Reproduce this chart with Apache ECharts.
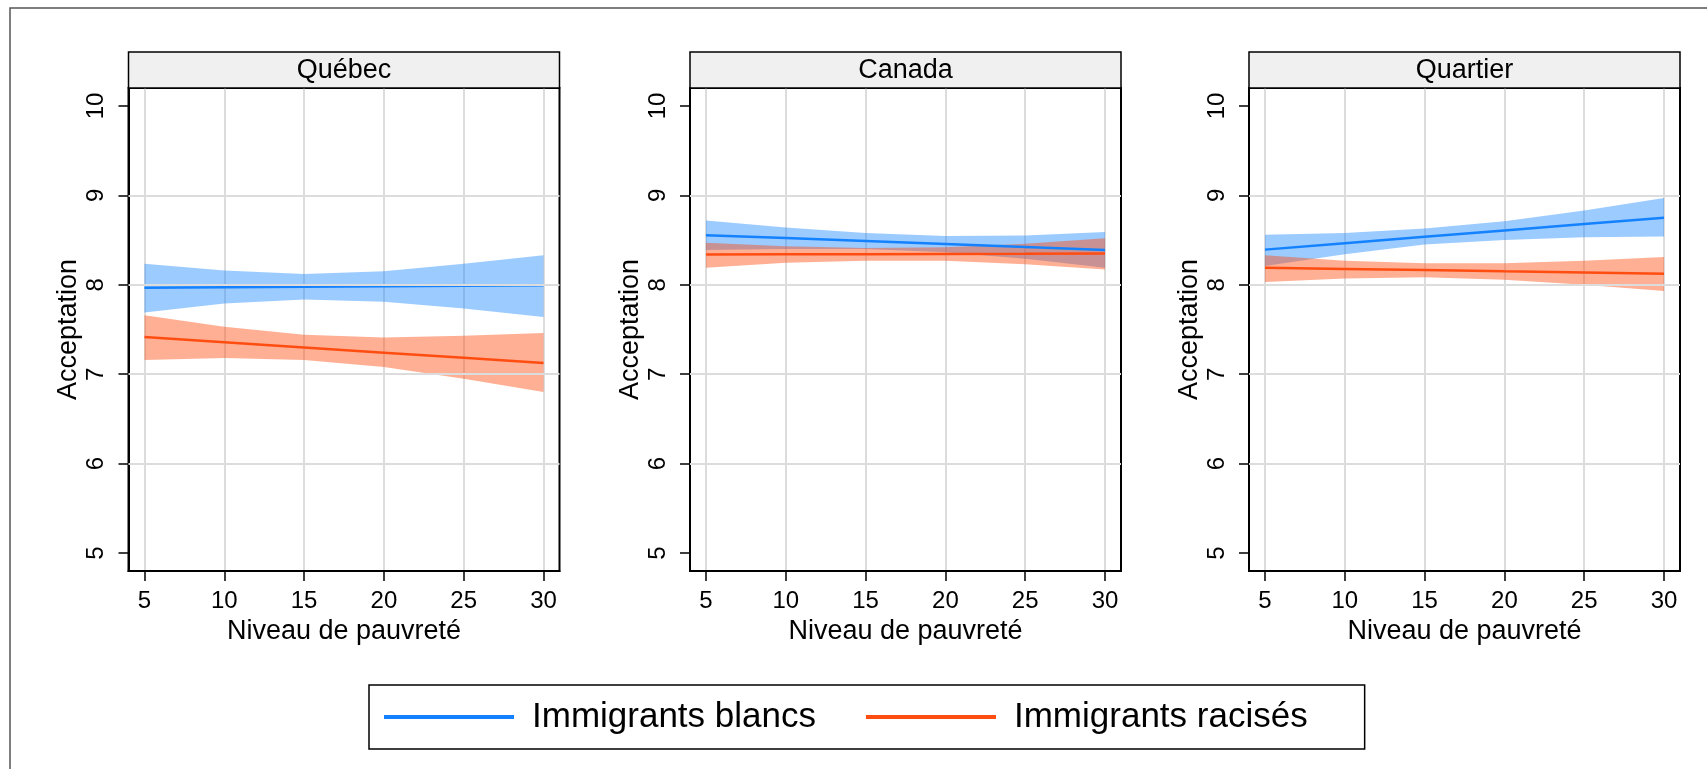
<!DOCTYPE html>
<html>
<head>
<meta charset="utf-8">
<script src="https://cdn.jsdelivr.net/npm/echarts@6/dist/echarts.min.js"></script>
<style>
html,body{margin:0;padding:0;background:#fff;}
#chart{width:1707px;height:769px;}
</style>
</head>
<body>
<div id="chart"></div>
<script>
// ---- data ----
const panels = ['Québec', 'Canada', 'Quartier'];
const seriesNames = ['Immigrants blancs', 'Immigrants racisés'];
const poverty = [5, 10, 15, 20, 25, 30];
const yTicks = [5, 6, 7, 8, 9, 10];
const yGridValues = [6, 7, 8, 9];

const qcBlancsFit = [7.966, 7.972, 7.978, 7.984, 7.990, 7.996];
const qcBlancsLo  = [7.69, 7.79, 7.835, 7.81, 7.735, 7.64];
const qcBlancsHi  = [8.235, 8.16, 8.12, 8.15, 8.235, 8.33];
const qcRacisesFit = [7.415, 7.357, 7.299, 7.241, 7.183, 7.125];
const qcRacisesLo  = [7.16, 7.18, 7.16, 7.08, 6.95, 6.80];
const qcRacisesHi  = [7.66, 7.53, 7.44, 7.41, 7.43, 7.46];

const caBlancsFit = [8.555, 8.522, 8.489, 8.455, 8.422, 8.389];
const caBlancsLo  = [8.39, 8.40, 8.40, 8.365, 8.29, 8.19];
const caBlancsHi  = [8.72, 8.64, 8.58, 8.545, 8.55, 8.59];
const caRacisesFit = [8.338, 8.340, 8.342, 8.345, 8.347, 8.350];
const caRacisesLo  = [8.19, 8.245, 8.27, 8.27, 8.23, 8.17];
const caRacisesHi  = [8.47, 8.43, 8.41, 8.42, 8.46, 8.52];

const quBlancsFit = [8.393, 8.464, 8.536, 8.607, 8.679, 8.750];
const quBlancsLo  = [8.21, 8.34, 8.45, 8.50, 8.53, 8.54];
const quBlancsHi  = [8.56, 8.58, 8.63, 8.71, 8.83, 8.97];
const quRacisesFit = [8.190, 8.177, 8.164, 8.150, 8.137, 8.124];
const quRacisesLo  = [8.03, 8.07, 8.085, 8.055, 8.00, 7.93];
const quRacisesHi  = [8.33, 8.27, 8.24, 8.24, 8.27, 8.31];

// ---- styling / layout ----
const FONT = 'Liberation Sans, Arial, Helvetica, sans-serif';
const BLUE = '#1482ff';
const RED = '#ff4d12';
const BLUE_BAND = 'rgba(20,130,255,0.42)';
const RED_BAND = 'rgba(255,77,18,0.45)';
const GRID_COLOR = '#dcdcdc';

const gridLeft = [128.5, 690, 1249];
const gridWidth = 431;
const gridTop = 88;
const gridHeight = 483;
const stripTop = 52;

const panelData = [
  [[qcBlancsFit, qcBlancsLo, qcBlancsHi], [qcRacisesFit, qcRacisesLo, qcRacisesHi]],
  [[caBlancsFit, caBlancsLo, caBlancsHi], [caRacisesFit, caRacisesLo, caRacisesHi]],
  [[quBlancsFit, quBlancsLo, quBlancsHi], [quRacisesFit, quRacisesLo, quRacisesHi]]
];
const lineColors = [BLUE, RED];
const bandColors = [BLUE_BAND, RED_BAND];

const grids = [], xAxes = [], yAxes = [], series = [], graphics = [];

graphics.push({
  type: 'rect', silent: true, z: 100,
  shape: { x: 10, y: 8, width: 1730, height: 800 },
  style: { fill: 'none', stroke: '#555', lineWidth: 1.5 }
});

function bandSeries(p, rows, color) {
  return {
    type: 'custom', xAxisIndex: p, yAxisIndex: p, silent: true, z: 2,
    data: rows,
    encode: { x: 0, y: [1, 2] },
    renderItem: function (params, api) {
      if (params.dataIndex !== 0) return null;
      const upper = rows.map(r => api.coord([r[0], r[2]]));
      const lower = rows.map(r => api.coord([r[0], r[1]])).reverse();
      return {
        type: 'polygon',
        shape: { points: upper.concat(lower) },
        style: { fill: color, stroke: 'none' }
      };
    }
  };
}

panels.forEach((name, p) => {
  grids.push({
    left: gridLeft[p], top: gridTop, width: gridWidth, height: gridHeight,
    show: true, backgroundColor: '#fff', borderColor: '#000', borderWidth: 2
  });
  xAxes.push({
    gridIndex: p, type: 'value', min: 4, max: 31,
    name: 'Niveau de pauvreté', nameLocation: 'middle', nameGap: 43,
    nameTextStyle: { fontFamily: FONT, fontSize: 27, color: '#000' },
    axisLine: { show: true, onZero: false, lineStyle: { color: '#000', width: 2 } },
    axisTick: { show: true, length: 10, customValues: poverty, lineStyle: { color: '#000', width: 1.5 } },
    axisLabel: { show: true, customValues: poverty, margin: 18, fontFamily: FONT, fontSize: 24, color: '#000' },
    splitLine: { show: true, lineStyle: { color: GRID_COLOR, width: 2 } }
  });
  yAxes.push({
    gridIndex: p, type: 'value', min: 4.8, max: 10.2,
    name: 'Acceptation', nameLocation: 'middle', nameGap: 46,
    nameTextStyle: { fontFamily: FONT, fontSize: 27, color: '#000' },
    axisLine: { show: true, onZero: false, lineStyle: { color: '#000', width: 2 } },
    axisTick: { show: true, length: 10, customValues: yTicks, lineStyle: { color: '#000', width: 1.5 } },
    axisLabel: { show: true, customValues: yTicks, rotate: 90, margin: 20, fontFamily: FONT, fontSize: 24, color: '#000' },
    splitLine: { show: false }
  });

  // horizontal grid lines
  series.push({
    type: 'line', xAxisIndex: p, yAxisIndex: p, data: [], z: 1, silent: true,
    markLine: {
      silent: true, symbol: ['none', 'none'], label: { show: false },
      lineStyle: { color: GRID_COLOR, width: 2, type: 'solid' },
      emphasis: { disabled: true },
      data: yGridValues.map(v => ({ yAxis: v }))
    }
  });

  // confidence bands
  panelData[p].forEach((g, gi) => {
    const [fit, lo, hi] = g;
    series.push(bandSeries(p, poverty.map((x, i) => [x, lo[i], hi[i]]), bandColors[gi]));
  });
  // fitted lines
  panelData[p].forEach((g, gi) => {
    const fit = g[0];
    series.push({
      type: 'line', name: seriesNames[gi], xAxisIndex: p, yAxisIndex: p,
      data: poverty.map((x, i) => [x, fit[i]]),
      symbol: 'none', showSymbol: false, color: lineColors[gi],
      lineStyle: { color: lineColors[gi], width: 2.5 }, z: 3
    });
  });

  // strip
  graphics.push({
    type: 'rect', silent: true, z: 10,
    shape: { x: gridLeft[p], y: stripTop, width: gridWidth, height: gridTop - stripTop },
    style: { fill: '#f0f0f0', stroke: '#000', lineWidth: 1.5 }
  });
  graphics.push({
    type: 'text', silent: true, z: 11,
    x: gridLeft[p] + gridWidth / 2, y: (stripTop + gridTop) / 2 + 1,
    style: { text: name, fontFamily: FONT, fontSize: 27, fill: '#000', align: 'center', verticalAlign: 'middle' }
  });
});

const chart = echarts.init(document.getElementById('chart'), null, { renderer: 'canvas' });
chart.setOption({
  animation: false,
  backgroundColor: '#fff',
  grid: grids,
  xAxis: xAxes,
  yAxis: yAxes,
  legend: {
    data: seriesNames.map(n => ({ name: n, icon: 'rect' })),
    left: 369, top: 685,
    orient: 'horizontal',
    padding: [14, 57, 14, 15],
    itemGap: 50,
    itemWidth: 130, itemHeight: 4,
    borderColor: '#000', borderWidth: 1.5, backgroundColor: '#fff',
    selectedMode: false,
    textStyle: { fontFamily: FONT, fontSize: 35, lineHeight: 36, color: '#000', padding: [0, 0, 0, 13] }
  },
  graphic: graphics,
  series: series
});
</script>
</body>
</html>
